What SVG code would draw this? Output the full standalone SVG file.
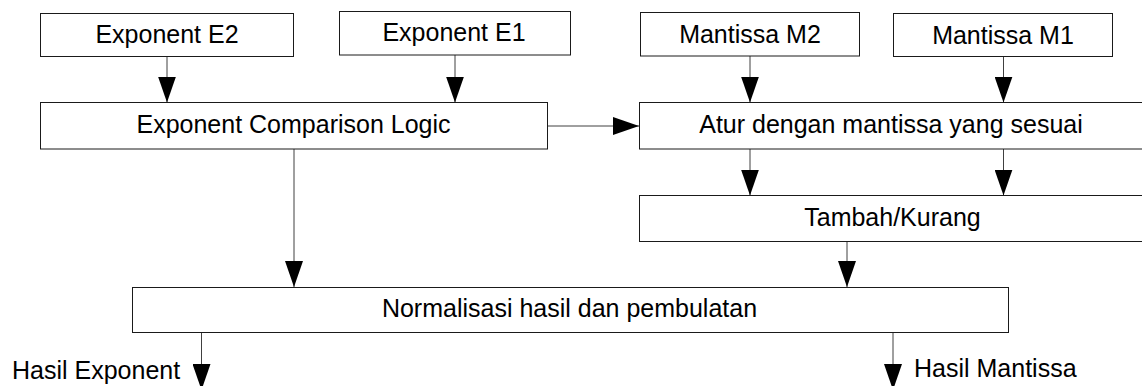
<svg xmlns="http://www.w3.org/2000/svg" width="1142" height="386" viewBox="0 0 1142 386">
  <style>
    .box { fill: #ffffff; stroke: #1a1a1a; stroke-width: 1; }
    .lbl { font-family: "Liberation Sans", Arial, sans-serif; font-size: 25px; fill: #000000; text-anchor: middle; }
    .out { font-family: "Liberation Sans", Arial, sans-serif; font-size: 25px; fill: #000000; }
    .conn { stroke: #404040; stroke-width: 1; fill: none; marker-end: url(#arrow); }
  </style>
  <defs>
    <marker id="arrow" markerUnits="userSpaceOnUse" markerWidth="26" markerHeight="18" refX="26" refY="9" orient="auto" viewBox="0 0 26 18">
      <path d="M0,0 L26,9 L0,18 Z" fill="#000000"/>
    </marker>
  </defs>
  <rect width="1142" height="386" fill="#ffffff"/>

  <g id="connectors">
    <line class="conn" x1="167" y1="57" x2="167" y2="102.5"/>
    <line class="conn" x1="455" y1="55" x2="455" y2="102.5"/>
    <line class="conn" x1="750" y1="56" x2="750" y2="102.5"/>
    <line class="conn" x1="1003.5" y1="56.5" x2="1003.5" y2="102.5"/>
    <line class="conn" x1="547" y1="126" x2="639" y2="126"/>
    <line class="conn" x1="750" y1="149" x2="750" y2="195.5"/>
    <line class="conn" x1="1003.5" y1="149" x2="1003.5" y2="195.5"/>
    <line class="conn" x1="294" y1="149" x2="294" y2="287"/>
    <line class="conn" x1="847" y1="241.5" x2="847" y2="287"/>
    <line class="conn" x1="201.5" y1="332.5" x2="201.5" y2="390"/>
    <line class="conn" x1="893" y1="332.5" x2="893" y2="390"/>
  </g>

  <g id="exponent-e2">
    <rect class="box" x="40.5" y="13.5" width="253" height="43"/>
    <text class="lbl" x="167" y="43">Exponent E2</text>
  </g>
  <g id="exponent-e1">
    <rect class="box" x="339.5" y="11.5" width="231" height="43.5"/>
    <text class="lbl" x="454" y="41">Exponent E1</text>
  </g>
  <g id="mantissa-m2">
    <rect class="box" x="640.5" y="12.5" width="219" height="43.5"/>
    <text class="lbl" x="750" y="42.5">Mantissa M2</text>
  </g>
  <g id="mantissa-m1">
    <rect class="box" x="893.5" y="13.5" width="219" height="43"/>
    <text class="lbl" x="1003" y="43.5">Mantissa M1</text>
  </g>
  <g id="exponent-comparison">
    <rect class="box" x="40.5" y="102.5" width="507" height="46.5"/>
    <text class="lbl" x="293.5" y="133">Exponent Comparison Logic</text>
  </g>
  <g id="atur-mantissa">
    <rect class="box" x="639.5" y="102.5" width="506" height="46.5"/>
    <text class="lbl" x="891" y="132.5">Atur dengan mantissa yang sesuai</text>
  </g>
  <g id="tambah-kurang">
    <rect class="box" x="639.5" y="195.5" width="506" height="46"/>
    <text class="lbl" x="892.5" y="226">Tambah/Kurang</text>
  </g>
  <g id="normalisasi">
    <rect class="box" x="132.5" y="287.5" width="876" height="45"/>
    <text class="lbl" x="569.5" y="316.5">Normalisasi hasil dan pembulatan</text>
  </g>
  <g id="hasil-exponent">
    <text class="out" x="12" y="379">Hasil Exponent</text>
  </g>
  <g id="hasil-mantissa">
    <text class="out" x="914" y="377">Hasil Mantissa</text>
  </g>
</svg>
